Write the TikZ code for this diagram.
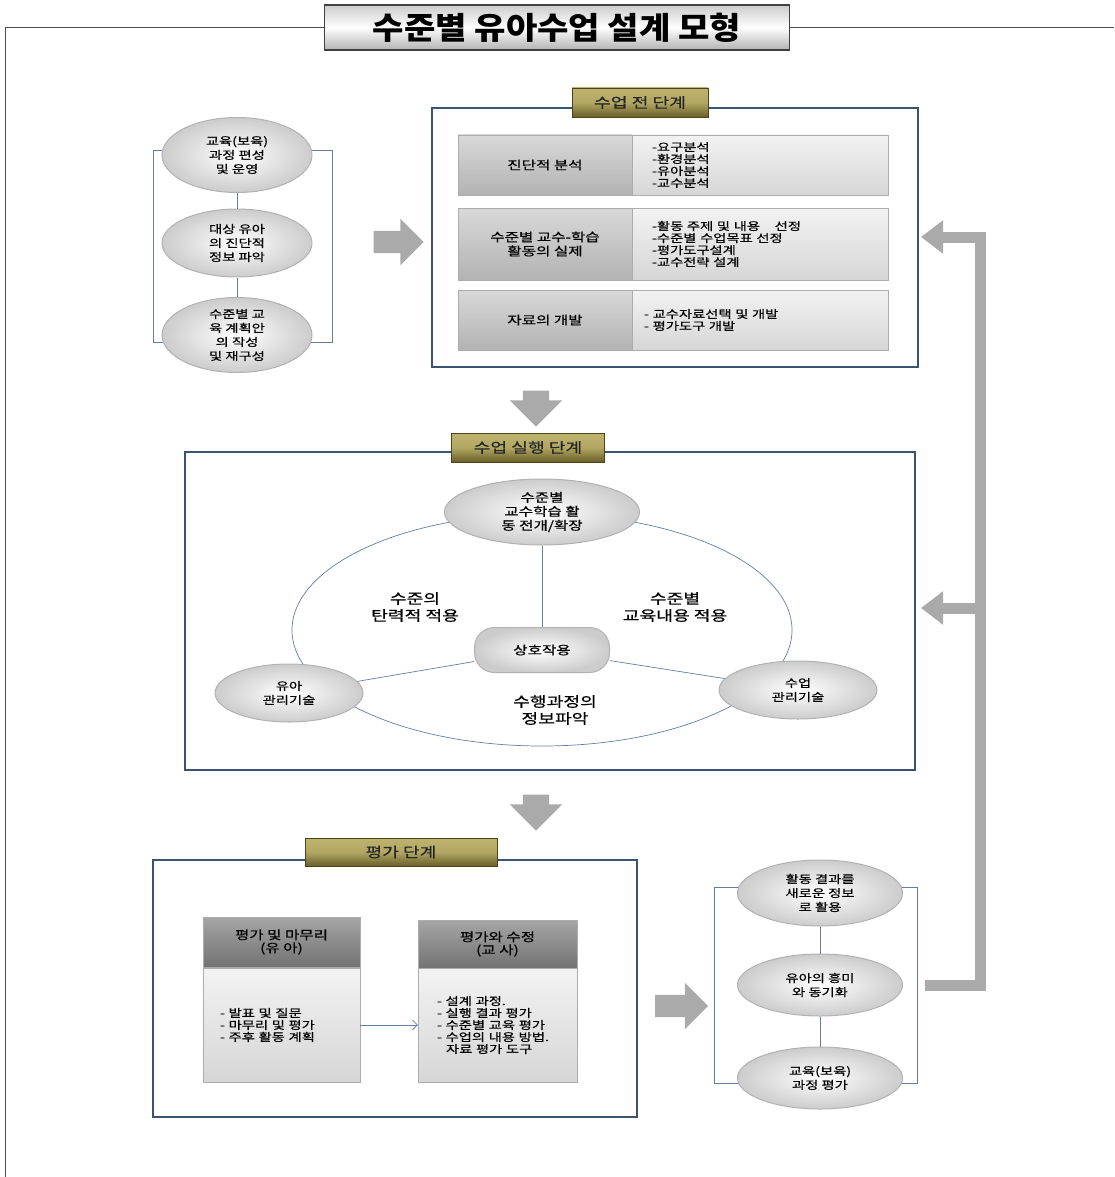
\documentclass[tikz,border=0pt]{standalone}
\usepackage{fontspec}
\setmainfont{Noto Sans CJK KR}[FakeStretch=1.3, FakeBold=0.6]
\newfontfamily\titlefont{Noto Sans CJK KR}[FakeStretch=1.1]
\usetikzlibrary{shapes.geometric,shapes.arrows,arrows.meta}
\definecolor{framec}{RGB}{60,82,115}
\definecolor{linec}{RGB}{100,125,160}
\definecolor{tabdark}{RGB}{105,95,40}
\definecolor{tablight}{RGB}{190,180,110}
\definecolor{arrowc}{RGB}{170,170,170}
\newcommand{\fsz}[2]{\fontsize{#1}{#2}\selectfont}

\begin{document}
\begin{tikzpicture}[x=1pt, y=-1pt,
    frame/.style = {rectangle, draw=framec, line width=2.5pt, inner sep=0pt},
    tab/.style = {rectangle, draw=tabdark!70!black, line width=0.8pt, top color=tablight, bottom color=tabdark, middle color=tablight!85!tabdark, minimum height=29pt, font=\fsz{14}{16}, text=black!85},
    oval/.style = {ellipse, draw=gray!60, line width=1pt, inner color=white, outer color=gray!40, align=center, inner sep=0pt, font=\fsz{11}{14}},
    pill/.style = {rectangle, rounded corners=20pt, draw=gray!60, line width=1pt, inner color=white, outer color=gray!40, inner sep=0pt, font=\fsz{12}{14}},
    hbox/.style = {rectangle, draw=gray!65, top color=black!15, bottom color=black!30, align=center, inner sep=0pt, font=\fsz{12}{14}},
    dbox/.style = {rectangle, draw=gray!65, top color=black!35, bottom color=black!55, align=center, inner sep=0pt, font=\fsz{12}{13}},
    lbox/.style = {rectangle, draw=gray!65, top color=black!5, bottom color=black!16, align=left, inner sep=0pt, font=\fsz{11}{12}},
    note/.style = {align=center, inner sep=0pt, font=\fsz{14}{17}},
    bigarrow/.style = {single arrow, fill=arrowc, draw=none, minimum height=50pt, inner xsep=0pt, inner ysep=11pt, single arrow head extend=12pt},
    link/.style = {draw=linec, line width=0.7pt},
    fback/.style = {draw=arrowc, line width=11pt, -{Triangle[length=22pt,width=32pt]}}]

    \useasboundingbox (0,0) rectangle (1114,1177);

    \node[draw=black!75, line width=1.2pt, top color=gray!40, bottom color=gray!60, middle color=white, minimum width=465, minimum height=45, font=\titlefont\fsz{31}{33}\bfseries] (title) at (557,27.5) {수준별 유아수업 설계 모형};
    \draw[black!70, line width=0.8pt] (title.west) -- (5,27.5) -- (5,1177);
    \draw[black!70, line width=0.8pt] (title.east) -- (1114,27.5);

    \draw[link] (153,150) rectangle (332,342);
    \node[oval, minimum width=150, minimum height=75] (cur) at (237,155) {교육(보육)\\과정 편성\\및 운영};
    \node[oval, minimum width=150, minimum height=68] (diag) at (237,243) {대상 유아\\의 진단적\\정보 파악};
    \node[oval, minimum width=150, minimum height=75] (plan) at (237,335) {수준별 교\\육 계획안\\의 작성\\및 재구성};
    \draw[link] (cur) -- (diag);
    \draw[link] (diag) -- (plan);

    \node[bigarrow] (toPre) at (393,242) {};

    \node[frame, minimum width=486, minimum height=259] (pre) at (675,237.5) {};
    \node[tab, minimum width=136] (pretab) at (640,102.5) {수업 전 단계};
    \node[hbox, minimum width=174, minimum height=60] (anal) at (545,165) {진단적 분석};
    \node[lbox, minimum width=256, minimum height=60, text width=216] (analr) at (760,165) {-요구분석\\-환경분석\\-유아분석\\-교수분석};
    \node[hbox, minimum width=174, minimum height=72] (design) at (545,244) {수준별 교수-학습\\활동의 실제};
    \node[lbox, minimum width=256, minimum height=72, text width=216] (designr) at (760,244) {-활동 주제 및 내용\quad\ 선정\\-수준별 수업목표 선정\\-평가도구설계\\-교수전략 설계};
    \node[hbox, minimum width=174, minimum height=60] (mat) at (545,320) {자료의 개발};
    \node[lbox, minimum width=256, minimum height=60, text width=232] (matr) at (760,320) {- 교수자료선택 및 개발\\- 평가도구 개발};

    \node[bigarrow, rotate=-90, minimum height=36pt, inner ysep=13pt, single arrow head extend=13pt] (toExec) at (536,402) {};

    \node[frame, minimum width=730, minimum height=318] (exec) at (550,611) {};
    \node[tab, minimum width=153] (exectab) at (528,447.5) {수업 실행 단계};
    \draw[link] (542,630) ellipse [x radius=250, y radius=116];
    \node[oval, minimum width=195, minimum height=66, font=\fsz{12}{14}] (act) at (542,512) {수준별\\교수학습 활\\동 전개/확장};
    \node[pill, minimum width=135, minimum height=45] (inter) at (542,650) {상호작용};
    \node[oval, minimum width=148, minimum height=58] (child) at (289,693) {유아\\관리기술};
    \node[oval, minimum width=158, minimum height=58] (class) at (798,690) {수업\\관리기술};
    \draw[link] (act) -- (inter);
    \draw[link] (inter) -- (child);
    \draw[link] (inter) -- (class);
    \node[note] (flex) at (415,607) {수준의\\탄력적 적용};
    \node[note] (content) at (675,607) {수준별\\교육내용 적용};
    \node[note] (proc) at (555,710) {수행과정의\\정보파악};

    \node[bigarrow, rotate=-90, minimum height=36pt, inner ysep=13pt, single arrow head extend=13pt] (toEval) at (536,806) {};

    \node[frame, minimum width=484, minimum height=257] (eval) at (395,988.5) {};
    \node[tab, minimum width=192, minimum height=28] (evaltab) at (401,852) {평가 단계};
    \node[dbox, minimum width=157, minimum height=50] (kidh) at (281.5,942) {평가 및 마무리\\(유 아)};
    \node[lbox, minimum width=157, minimum height=114, text width=123] (kidb) at (281.5,1025) {- 발표 및 질문\\- 마무리 및 평가\\- 주후 활동 계획};
    \node[dbox, minimum width=159, minimum height=48] (teah) at (497.5,944) {평가와 수정\\(교 사)};
    \node[lbox, minimum width=159, minimum height=114, text width=121] (teab) at (497.5,1025) {- 설계 과정.\\- 실행 결과 평가\\- 수준별 교육 평가\\- 수업의 내용 방법.\\\hspace*{9pt}자료 평가 도구};
    \draw[link, -{Straight Barb[length=5pt,width=10pt]}] (kidb) -- (teab);

    \node[bigarrow, minimum height=53pt] (toRight) at (676,1006) {};

    \draw[link] (714,887) rectangle (917,1083);
    \node[oval, minimum width=165, minimum height=66] (reuse) at (820,893) {활동 결과를\\새로운 정보\\로 활용};
    \node[oval, minimum width=165, minimum height=62] (motiv) at (820,985) {유아의 흥미\\와 동기화};
    \node[oval, minimum width=165, minimum height=62] (ceval) at (820,1078) {교육(보육)\\과정 평가};
    \draw[link] (reuse) -- (motiv);
    \draw[link] (motiv) -- (ceval);

    \coordinate (fbout) at (925,985);
    \coordinate (fbturn) at (980,985);
    \coordinate (fbjoin) at (980,608);
    \coordinate (fbpre) at (921,237);
    \coordinate (fbexec) at (921,608);
    \draw[fback] (fbout) -- (fbturn) |- (fbpre);
    \draw[fback] (fbjoin) -- (fbexec);
\end{tikzpicture}
\end{document}
